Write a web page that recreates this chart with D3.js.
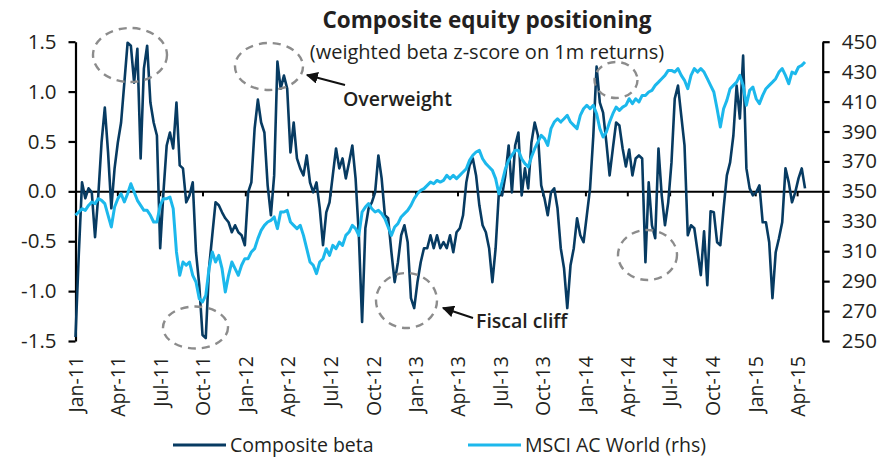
<!DOCTYPE html>
<html>
<head>
<meta charset="utf-8">
<script src="https://cdn.jsdelivr.net/npm/d3@7"></script>
<style>
    body { margin: 0; background: #fff; }
    svg { display: block; font-family: "Open Sans", sans-serif; }
</style>
</head>
<body>
<div id="chart"></div>
<script>
// weekly readings, first one on startDate
const startDate = "2011-01-01";

const compositeBeta = [
    -1.46, -0.64, 0.09, -0.07, 0.03, -0.01, -0.46, -0.04, 0.49, 0.84,
    0.39, -0.17, 0.23, 0.49, 0.69, 1.09, 1.49, 1.46, 1.09, 1.43,
    0.33, 1.23, 1.46, 0.89, 0.69, 0.56, -0.57, -0.01, 0.46, 0.59,
    0.43, 0.89, 0.26, 0.23, -0.11, -0.04, 0.09, -0.61, -0.94, -1.44,
    -1.47, -0.77, -0.44, -0.11, -0.14, -0.21, -0.27, -0.31, -0.41, -0.34,
    -0.41, -0.44, -0.54, -0.01, 0.09, 0.63, 0.92, 0.69, 0.59, 0.06,
    -0.24, 0.16, 1.30, 1.03, 1.16, 1.03, 0.39, 0.69, 0.33, 0.23,
    0.16, 0.36, 0.09, -0.01, 0.09, -0.17, -0.54, -0.21, -0.11, 0.16,
    0.43, 0.23, 0.33, 0.13, 0.29, 0.46, 0.13, -0.44, -1.31, -0.37,
    -0.17, -0.11, -0.01, 0.36, 0.13, -0.24, -0.27, -0.61, -0.91, -0.71,
    -0.44, -0.34, -0.51, -1.07, -1.17, -0.91, -0.71, -0.57, -0.57, -0.44,
    -0.57, -0.44, -0.57, -0.51, -0.57, -0.44, -0.61, -0.41, -0.37, -0.24,
    0.09, 0.26, 0.33, 0.16, -0.14, -0.34, -0.41, -0.57, -0.91, -0.57,
    -0.01, -0.04, 0.16, 0.46, -0.01, 0.46, 0.59, -0.04, 0.23, 0.03,
    0.49, 0.69, 0.56, 0.06, -0.07, -0.24, -0.01, 0.03, -0.17, -0.57,
    -0.77, -1.17, -0.74, -0.57, -0.27, -0.44, -0.51, -0.24, 0.03, 0.56,
    1.25, 0.89, 0.79, 0.49, 0.16, 0.43, 0.69, 0.66, 0.43, 0.25,
    0.42, 0.16, 0.33, 0.36, 0.33, -0.71, 0.09, -0.34, -0.47, 0.43,
    -0.04, -0.34, -0.11, 0.29, 0.93, 1.06, 0.76, 0.46, -0.44, -0.34,
    -0.37, -0.60, -0.84, -0.40, -0.94, -0.20, -0.21, -0.51, -0.54, -0.17,
    0.16, 0.29, 0.56, 1.06, 0.73, 1.36, 0.23, 0.03, -0.04, -0.01,
    0.06, -0.31, -0.31, -0.51, -1.07, -0.61, -0.47, -0.31, 0.23, 0.09,
    -0.11, -0.01, 0.13, 0.23, 0.03
];

const msciWorld = [
    334.0, 336.2, 338.4, 337.3, 340.6, 342.9, 341.8, 345.1, 344.0, 341.8,
    334.0, 326.2, 339.5, 345.1, 348.4, 342.9, 348.4, 355.1, 349.6, 344.0,
    340.6, 337.3, 337.3, 334.0, 329.5, 329.5, 340.6, 345.1, 345.1, 346.2,
    338.4, 309.5, 293.9, 302.8, 300.6, 302.8, 293.9, 289.4, 278.3, 276.1,
    280.5, 298.3, 309.5, 302.8, 307.2, 298.3, 282.7, 293.9, 302.8, 298.3,
    293.9, 300.6, 305.0, 305.0, 309.5, 311.7, 318.4, 323.9, 327.3, 329.5,
    330.6, 332.9, 325.1, 336.2, 336.2, 337.3, 329.5, 327.3, 325.1, 327.3,
    320.6, 311.7, 302.8, 300.6, 295.0, 302.8, 305.0, 311.7, 307.2, 313.9,
    311.7, 316.1, 313.9, 320.6, 322.8, 327.3, 325.1, 320.6, 336.2, 339.5,
    341.8, 338.4, 336.2, 337.3, 335.1, 331.7, 326.2, 320.6, 326.2, 328.4,
    332.9, 335.1, 337.3, 340.6, 345.1, 348.4, 350.7, 351.8, 354.0, 356.2,
    355.1, 357.3, 356.2, 357.3, 360.7, 358.5, 360.7, 358.5, 360.7, 362.9,
    365.1, 370.7, 374.1, 376.3, 377.4, 371.8, 368.5, 366.3, 364.0, 358.5,
    348.4, 356.2, 365.1, 370.7, 374.1, 377.4, 377.4, 371.8, 368.5, 366.3,
    373.0, 378.5, 383.0, 387.4, 385.2, 380.7, 391.9, 396.3, 398.5, 396.3,
    398.5, 400.8, 396.3, 394.1, 391.9, 400.8, 405.2, 407.5, 405.2, 407.5,
    401.9, 391.9, 386.3, 389.6, 396.3, 401.9, 406.3, 404.1, 406.3, 407.5,
    411.9, 408.6, 411.9, 409.7, 414.1, 414.1, 416.4, 417.5, 420.8, 423.0,
    425.3, 427.5, 430.8, 430.8, 429.7, 432.0, 427.5, 424.2, 418.6, 427.5,
    432.0, 429.7, 432.0, 429.7, 425.3, 420.8, 416.4, 405.2, 393.0, 405.2,
    410.8, 418.6, 420.8, 423.0, 427.5, 420.8, 407.5, 417.5, 419.7, 411.9,
    408.6, 414.1, 418.6, 420.8, 423.0, 425.3, 429.7, 432.0, 427.5, 421.9,
    429.7, 428.6, 433.1, 434.2, 436.4
];

const betaTicks = [-1.5, -1.0, -0.5, 0.0, 0.5, 1.0, 1.5];
const msciTicks = [250, 270, 290, 310, 330, 350, 370, 390, 410, 430, 450];
const monthTicks = [
    "Jan-11", "Apr-11", "Jul-11", "Oct-11", "Jan-12", "Apr-12", "Jul-12", "Oct-12",
    "Jan-13", "Apr-13", "Jul-13", "Oct-13", "Jan-14", "Apr-14", "Jul-14", "Oct-14",
    "Jan-15", "Apr-15"
];

const width = 895;
const height = 458;

const darkBlue = '#073b62';
const lightBlue = '#1cb8ec';
const textColor = '#231f20';

const parseDay = d3.timeParse('%Y-%m-%d');
const parseMonth = d3.timeParse('%b-%y');
const t0 = parseDay(startDate);
const dates = compositeBeta.map((_, i) => d3.timeDay.offset(t0, 7 * i));

const x = d3.scaleTime()
    .domain([parseDay('2011-01-01'), parseDay('2015-05-26')])
    .range([75.5, 822.7]);

const yLeft = d3.scaleLinear()
    .domain([-1.5, 1.5])
    .range([341, 41.7]);

const yRight = d3.scaleLinear()
    .domain([250, 450])
    .range([341, 41.7]);

const svg = d3.select('#chart')
    .append('svg')
    .attr('width', width)
    .attr('height', height);

// title
svg.append('text')
    .attr('x', 487)
    .attr('y', 28)
    .attr('text-anchor', 'middle')
    .attr('font-size', '22.5px')
    .attr('font-weight', 700)
    .attr('fill', textColor)
    .text('Composite equity positioning');

svg.append('text')
    .attr('x', 487)
    .attr('y', 59)
    .attr('text-anchor', 'middle')
    .attr('font-size', '20px')
    .attr('fill', textColor)
    .text('(weighted beta z-score on 1m returns)');

// zero line with quarterly ticks
const tickDates = monthTicks.map(parseMonth);

const xAxis = svg.append('g')
    .attr('transform', `translate(0, ${yLeft(0)})`)
    .call(d3.axisBottom(x).tickValues(tickDates).tickSize(5).tickSizeOuter(0).tickFormat(''));

xAxis.select('.domain').attr('stroke', '#000').attr('stroke-width', 2);
xAxis.selectAll('.tick line').attr('stroke', '#000').attr('stroke-width', 2);

svg.append('g')
    .selectAll('text')
    .data(monthTicks)
    .join('text')
    .attr('transform', d => `translate(${x(parseMonth(d)) + 1}, 356) rotate(-90)`)
    .attr('dy', '0.35em')
    .attr('text-anchor', 'end')
    .attr('font-size', '19.5px')
    .attr('fill', textColor)
    .text(d => d);

// left axis
const leftAxis = svg.append('g')
    .attr('transform', 'translate(75.5, 0)')
    .call(d3.axisLeft(yLeft).tickValues(betaTicks).tickSize(7).tickSizeOuter(0).tickPadding(12)
        .tickFormat(d => d.toFixed(1)));

// right axis
const rightAxis = svg.append('g')
    .attr('transform', 'translate(822.7, 0)')
    .call(d3.axisRight(yRight).tickValues(msciTicks).tickSize(7).tickSizeOuter(0).tickPadding(12));

[leftAxis, rightAxis].forEach(ax => {
    ax.select('.domain').attr('stroke', '#000').attr('stroke-width', 2.2);
    ax.selectAll('.tick line').attr('stroke', '#000').attr('stroke-width', 2.2);
    ax.selectAll('.tick text')
        .attr('font-size', '20.5px')
        .attr('font-family', '"Open Sans", sans-serif')
        .attr('fill', textColor);
});

// series
const betaLine = d3.line()
    .x((d, i) => x(dates[i]))
    .y(d => yLeft(d));

const msciLine = d3.line()
    .x((d, i) => x(dates[i]))
    .y(d => yRight(d));

svg.append('path')
    .datum(compositeBeta)
    .attr('fill', 'none')
    .attr('stroke', darkBlue)
    .attr('stroke-width', 2.6)
    .attr('stroke-linejoin', 'round')
    .attr('d', betaLine);

svg.append('path')
    .datum(msciWorld)
    .attr('fill', 'none')
    .attr('stroke', lightBlue)
    .attr('stroke-width', 3)
    .attr('stroke-linejoin', 'round')
    .attr('d', msciLine);

// dashed call-out ellipses
const callouts = [
    { cx: 130, cy: 55, rx: 37, ry: 27 },
    { cx: 269, cy: 66.5, rx: 34, ry: 23.5 },
    { cx: 195.5, cy: 327.5, rx: 32.5, ry: 21 },
    { cx: 406.5, cy: 300.5, rx: 30.5, ry: 27.5 },
    { cx: 616, cy: 80, rx: 21.5, ry: 18 },
    { cx: 647.5, cy: 255, rx: 29.5, ry: 25 }
];

svg.append('g')
    .selectAll('ellipse')
    .data(callouts)
    .join('ellipse')
    .attr('cx', d => d.cx)
    .attr('cy', d => d.cy)
    .attr('rx', d => d.rx)
    .attr('ry', d => d.ry)
    .attr('fill', 'none')
    .attr('stroke', '#8c8c8c')
    .attr('stroke-width', 2.4)
    .attr('stroke-dasharray', '8,6');

// arrows with labels
svg.append('defs')
    .append('marker')
    .attr('id', 'head')
    .attr('viewBox', '0 0 10 10')
    .attr('refX', 9)
    .attr('refY', 5)
    .attr('markerWidth', 6)
    .attr('markerHeight', 6)
    .attr('orient', 'auto')
    .append('path')
    .attr('d', 'M0,0 L10,5 L0,10 Z')
    .attr('fill', '#111');

const notes = [
    { text: 'Overweight', tx: 343, ty: 106, x1: 345, y1: 85, x2: 307, y2: 75 },
    { text: 'Fiscal cliff', tx: 476, ty: 328, x1: 473, y1: 318, x2: 443, y2: 308 }
];

notes.forEach(n => {
    svg.append('line')
        .attr('x1', n.x1).attr('y1', n.y1)
        .attr('x2', n.x2).attr('y2', n.y2)
        .attr('stroke', '#111')
        .attr('stroke-width', 2)
        .attr('marker-end', 'url(#head)');
    svg.append('text')
        .attr('x', n.tx)
        .attr('y', n.ty)
        .attr('font-size', '19.5px')
        .attr('font-weight', 600)
        .attr('fill', textColor)
        .text(n.text);
});

// legend
const legend = [
    { label: 'Composite beta', color: darkBlue, x: 173 },
    { label: 'MSCI AC World (rhs)', color: lightBlue, x: 468 }
];

legend.forEach(l => {
    svg.append('line')
        .attr('x1', l.x).attr('x2', l.x + 53)
        .attr('y1', 445).attr('y2', 445)
        .attr('stroke', l.color)
        .attr('stroke-width', 3);
    svg.append('text')
        .attr('x', l.x + 57)
        .attr('y', 452)
        .attr('font-size', '19.5px')
        .attr('fill', textColor)
        .text(l.label);
});
</script>
</body>
</html>
